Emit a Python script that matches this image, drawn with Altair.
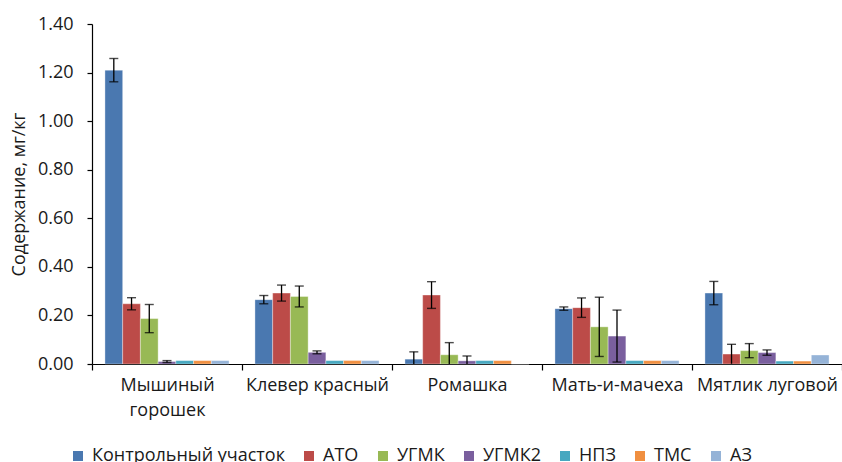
import altair as alt
import pandas as pd

categories = ["Мышиный горошек", "Клевер красный", "Ромашка", "Мать-и-мачеха", "Мятлик луговой"]
series = ["Контрольный участок", "АТО", "УГМК", "УГМК2", "НПЗ", "ТМС", "АЗ"]
colors = ["#4A78B0", "#BC4B48", "#98B955", "#7A5F9E", "#47A8C0", "#F08F40", "#95B3D7"]

val_control = [1.21, 0.265, 0.02, 0.228, 0.292]
val_ato = [0.248, 0.292, 0.284, 0.232, 0.041]
val_ugmk = [0.187, 0.278, 0.038, 0.153, 0.055]
val_ugmk2 = [0.01, 0.048, 0.013, 0.115, 0.047]
val_npz = [0.014, 0.014, 0.014, 0.014, 0.012]
val_tms = [0.014, 0.014, 0.014, 0.014, 0.012]
val_az = [0.014, 0.014, 0.0, 0.014, 0.037]

err_control = [0.048, 0.017, 0.03, 0.007, 0.048]
err_ato = [0.025, 0.033, 0.055, 0.04, 0.04]
err_ugmk = [0.058, 0.043, 0.05, 0.122, 0.029]
err_ugmk2 = [0.004, 0.006, 0.02, 0.107, 0.011]
err_npz = [0, 0, 0, 0, 0]
err_tms = [0, 0, 0, 0, 0]
err_az = [0, 0, 0, 0, 0]

all_vals = [val_control, val_ato, val_ugmk, val_ugmk2, val_npz, val_tms, val_az]
all_errs = [err_control, err_ato, err_ugmk, err_ugmk2, err_npz, err_tms, err_az]

rows = []
for s, vals, errs in zip(series, all_vals, all_errs):
    for c, v, e in zip(categories, vals, errs):
        rows.append({"cat": c, "series": s, "value": v, "err": e})
df = pd.DataFrame(rows)

FONT = "Open Sans"
TXT = "#1a1a1a"
FS = 18

x_enc = alt.X(
    "cat:N", sort=categories,
    scale=alt.Scale(paddingInner=0, paddingOuter=0),
    axis=alt.Axis(
        title=None, tickBand="extent", labelAngle=0, labelFontSize=FS, labelFont=FONT,
        labelColor=TXT, labelPadding=6, tickSize=6, domainColor="#000", tickColor="#000",
        domainWidth=1.2, tickWidth=1.2, labelLineHeight=25, labelLimit=0,
        labelExpr="datum.value == 'Мышиный горошек' ? ['Мышиный', 'горошек'] : datum.value",
    ),
)
xo_enc = alt.XOffset("series:N", sort=series, scale=alt.Scale(paddingInner=0, paddingOuter=0.73))
y_axis = alt.Axis(
    title="Содержание, мг/кг", values=[0, 0.2, 0.4, 0.6, 0.8, 1.0, 1.2, 1.4], format=".2f",
    grid=False, labelFontSize=FS, labelFont=FONT, labelColor=TXT, labelPadding=14, tickSize=5,
    domainColor="#000", tickColor="#000", domainWidth=1.2, tickWidth=1.2,
    titleFont=FONT, titleFontSize=FS, titleFontWeight="normal", titleColor=TXT, titlePadding=9,
)
y_scale = alt.Scale(domain=[0, 1.4], nice=False)

base = alt.Chart(df)

bars = base.mark_bar(stroke="white", strokeOpacity=0.35, strokeWidth=1).encode(
    x=x_enc, xOffset=xo_enc,
    y=alt.Y("value:Q", scale=y_scale, axis=y_axis),
    color=alt.Color(
        "series:N", sort=series, scale=alt.Scale(domain=series, range=colors),
        legend=alt.Legend(
            title=None, orient="none", direction="horizontal", columns=7, legendX=-23, legendY=423,
            symbolType="square", symbolSize=100, symbolStrokeWidth=0, labelFontSize=FS, labelFont=FONT,
            labelColor=TXT, columnPadding=15, labelOffset=5, labelLimit=0,
        ),
    ),
)

err = base.transform_filter("datum.err > 0").transform_calculate(
    lo="max(0, datum.value - datum.err)", hi="datum.value + datum.err"
)
rule = err.mark_rule(color="#000", strokeWidth=1.3).encode(
    x=x_enc, xOffset=xo_enc,
    y=alt.Y("lo:Q", scale=y_scale, axis=y_axis), y2="hi:Q",
)
cap_hi = err.mark_tick(color="#000", thickness=1.4, size=9, orient="horizontal").encode(
    x=x_enc, xOffset=xo_enc, y=alt.Y("hi:Q", scale=y_scale, axis=y_axis),
)
cap_lo = err.transform_filter("datum.value - datum.err > 0.004").mark_tick(
    color="#000", thickness=1.4, size=9, orient="horizontal"
).encode(
    x=x_enc, xOffset=xo_enc, y=alt.Y("lo:Q", scale=y_scale, axis=y_axis),
)

chart = alt.layer(bars, rule, cap_hi, cap_lo).properties(
    width=750, height=340,
    padding={"left": 92, "top": 24, "right": 0, "bottom": 98},
    autosize=alt.AutoSizeParams(type="none"),
    background="white",
).configure_view(stroke=None)

chart.save("out.html", embed_options={"renderer": "svg", "actions": False})
